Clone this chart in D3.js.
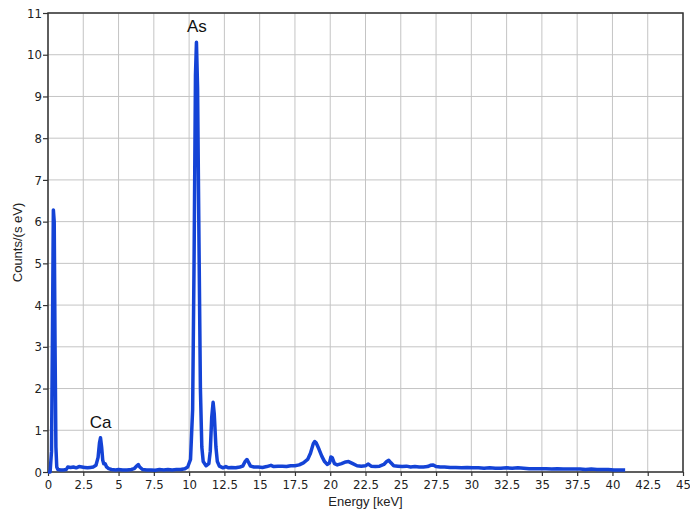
<!DOCTYPE html>
<html><head><meta charset="utf-8">
<script src="https://cdn.jsdelivr.net/npm/d3@7"></script>
<style>
body{margin:0;background:#fff;}
text{font-family:"Liberation Sans",Arial,sans-serif;}
.tick text{font-family:"DejaVu Sans Condensed","DejaVu Sans",sans-serif;font-stretch:condensed;}
</style></head>
<body><svg id="c" width="690" height="512"></svg>
<script>
const xTicks = [0,2.5,5,7.5,10,12.5,15,17.5,20,22.5,25,27.5,30,32.5,35,37.5,40,42.5,45];
const xTickLabels = ["0","2.5","5","7.5","10","12.5","15","17.5","20","22.5","25","27.5","30","32.5","35","37.5","40","42.5","45"];
const yTicks = [0,1,2,3,4,5,6,7,8,9,10,11];
const energy = [0.0,0.15,0.25,0.32,0.38,0.44,0.5,0.56,0.62,0.7,0.9,1.1,1.3,1.4,1.6,1.8,2.0,2.2,2.4,2.6,2.8,3.0,3.2,3.4,3.55,3.65,3.72,3.8,3.88,3.95,4.05,4.15,4.3,4.5,4.8,5.0,5.3,5.6,5.9,6.1,6.3,6.4,6.5,6.7,7.0,7.3,7.6,7.9,8.2,8.5,8.8,9.1,9.4,9.7,9.9,10.1,10.25,10.35,10.45,10.52,10.6,10.7,10.8,10.9,11.0,11.2,11.4,11.5,11.6,11.7,11.78,11.9,12.0,12.15,12.4,12.6,12.8,13.0,13.3,13.6,13.8,13.95,14.1,14.2,14.35,14.6,14.9,15.2,15.5,15.8,16.0,16.3,16.6,16.9,17.2,17.5,17.8,18.1,18.4,18.6,18.8,18.9,19.0,19.2,19.4,19.6,19.8,19.95,20.05,20.15,20.3,20.5,20.8,21.1,21.3,21.6,21.9,22.2,22.5,22.7,22.9,23.2,23.5,23.8,24.0,24.15,24.3,24.5,24.8,25.1,25.4,25.7,26.0,26.3,26.6,26.9,27.1,27.3,27.5,27.8,28.1,28.5,28.9,29.3,29.7,30.1,30.5,30.9,31.3,31.7,32.1,32.5,32.9,33.3,33.7,34.1,34.5,34.9,35.3,35.7,36.1,36.5,36.9,37.3,37.7,38.1,38.5,38.9,39.3,39.7,40.1,40.5,40.9];
const counts = [0,0,0.5,3.5,6.28,6.0,3.0,0.6,0.12,0.06,0.05,0.05,0.06,0.12,0.11,0.12,0.10,0.13,0.12,0.11,0.10,0.11,0.12,0.16,0.35,0.7,0.82,0.6,0.28,0.2,0.2,0.12,0.08,0.06,0.05,0.06,0.05,0.05,0.06,0.08,0.15,0.18,0.12,0.06,0.05,0.05,0.04,0.06,0.05,0.06,0.05,0.06,0.06,0.08,0.12,0.3,1.5,5.0,9.5,10.3,9.2,5.5,2.0,0.6,0.25,0.15,0.2,0.5,1.3,1.67,1.4,0.6,0.25,0.14,0.1,0.13,0.1,0.11,0.1,0.12,0.14,0.24,0.3,0.24,0.14,0.12,0.12,0.11,0.13,0.16,0.13,0.14,0.14,0.13,0.15,0.15,0.17,0.22,0.3,0.45,0.68,0.73,0.7,0.55,0.38,0.25,0.18,0.22,0.36,0.34,0.2,0.17,0.2,0.24,0.25,0.2,0.15,0.14,0.15,0.19,0.14,0.13,0.14,0.18,0.25,0.28,0.22,0.15,0.14,0.13,0.14,0.12,0.13,0.12,0.12,0.13,0.16,0.17,0.13,0.12,0.12,0.11,0.11,0.1,0.11,0.1,0.1,0.09,0.1,0.09,0.09,0.1,0.09,0.1,0.09,0.08,0.08,0.08,0.08,0.07,0.08,0.07,0.07,0.07,0.07,0.06,0.07,0.06,0.06,0.06,0.05,0.05,0.05];
const peakLabels = [{text:"As", e:10.55, c:10.3}, {text:"Ca", e:3.72, c:0.82}];

const svg = d3.select("#c");
const L=48, R=683, T=13, B=472;
const x = d3.scaleLinear().domain([0,45]).range([L,R]);
const y = d3.scaleLinear().domain([0,11]).range([B,T]);

// grid
const g = svg.append("g");
g.selectAll("line.vx").data(xTicks).enter().append("line")
  .attr("x1",d=>x(d)).attr("x2",d=>x(d)).attr("y1",T).attr("y2",B)
  .attr("stroke","#c4c4c4").attr("stroke-width",1);
g.selectAll("line.hy").data(yTicks).enter().append("line")
  .attr("x1",L).attr("x2",R).attr("y1",d=>y(d)).attr("y2",d=>y(d))
  .attr("stroke","#c4c4c4").attr("stroke-width",1);

// axes
const xAxis = d3.axisBottom(x).tickValues(xTicks).tickFormat((d,i)=>xTickLabels[i]).tickSize(4).tickPadding(4);
const yAxis = d3.axisLeft(y).tickValues(yTicks).tickSize(5).tickPadding(1);
const gx = svg.append("g").attr("transform",`translate(0,${B})`).call(xAxis);
const gy = svg.append("g").attr("transform",`translate(${L},0)`).call(yAxis);
[gx,gy].forEach(a=>{
  a.select(".domain").remove();
  a.selectAll(".tick line").attr("stroke","#333").attr("stroke-width",1.2);
  a.selectAll(".tick text").attr("fill","#222").style("font-size","13px");
});

// frame
svg.append("rect").attr("x",L).attr("y",T).attr("width",R-L).attr("height",B-T)
  .attr("fill","none").attr("stroke","#333").attr("stroke-width",1.5);

// spectrum
const pts = energy.map((e,i)=>[e,counts[i]]);
svg.append("path").datum(pts)
  .attr("fill","none").attr("stroke","#1443d6").attr("stroke-width",3.5)
  .attr("stroke-linejoin","round")
  .attr("d", d3.line().x(d=>x(d[0])).y(d=>y(d[1])));

// peak labels
svg.selectAll("text.pk").data(peakLabels).enter().append("text")
  .attr("x",d=>x(d.e)).attr("y",d=>y(d.c)-10).attr("text-anchor","middle")
  .attr("fill","#111").style("font-size","17px").text(d=>d.text);

// axis titles
svg.append("text").attr("x",(L+R)/2).attr("y",506).attr("text-anchor","middle")
  .attr("fill","#222").style("font-size","13px").text("Energy [keV]");
svg.append("text").attr("transform",`translate(22,${(T+B)/2}) rotate(-90)`)
  .attr("text-anchor","middle").attr("fill","#222").style("font-size","13px").text("Counts/(s eV)");
</script></body></html>
